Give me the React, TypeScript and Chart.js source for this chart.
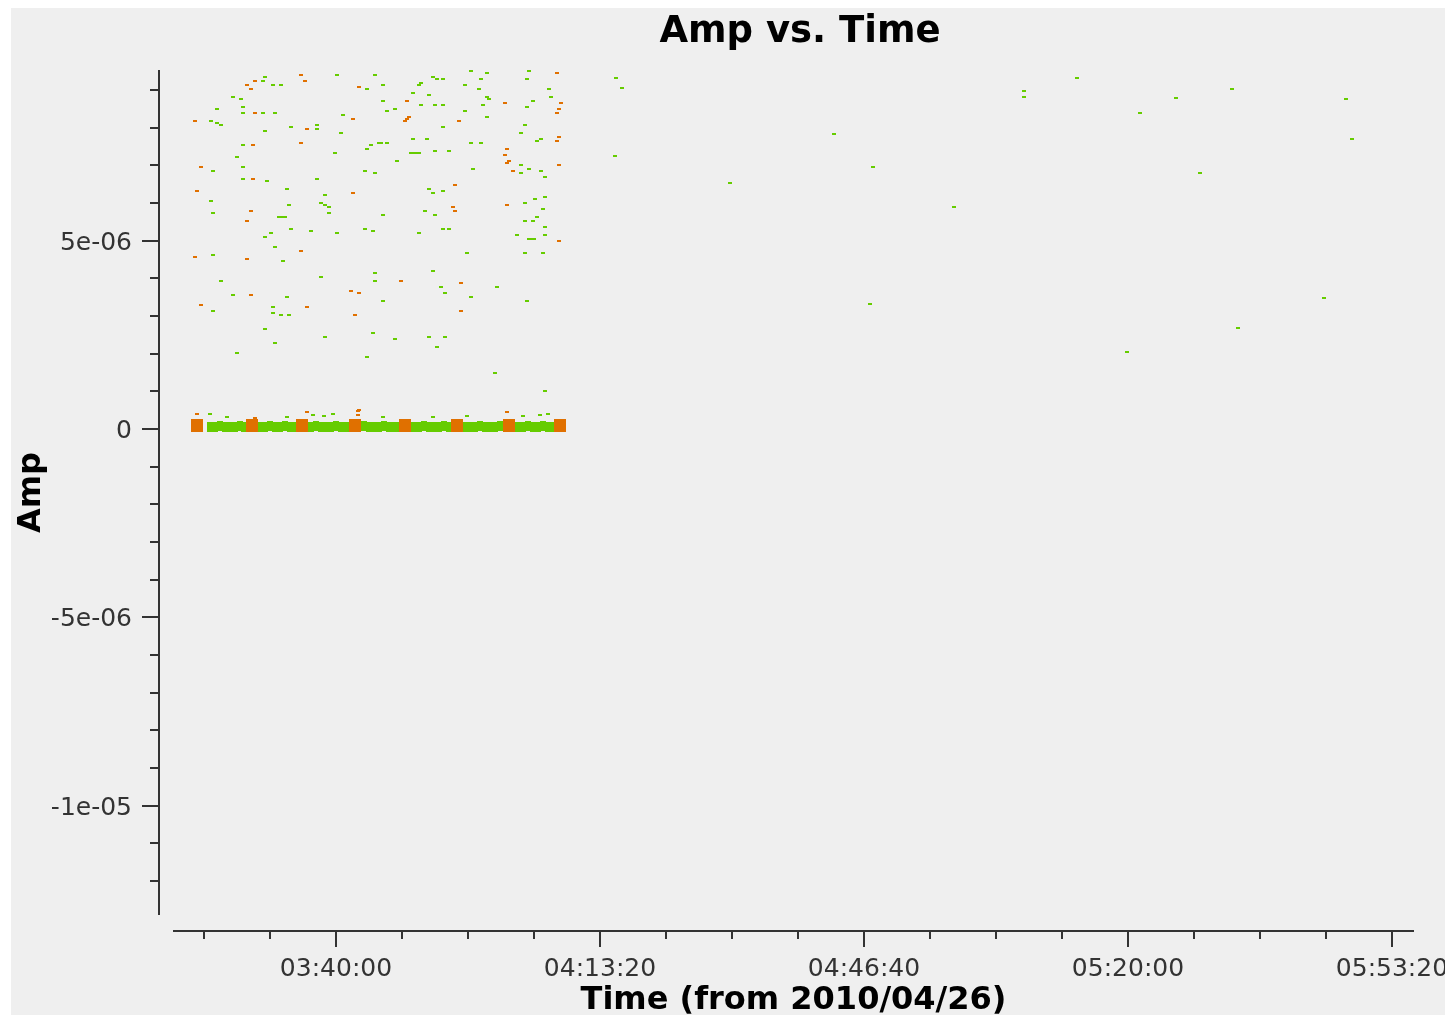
import React, { useEffect, useRef } from 'react';
import { Chart, registerables } from 'chart.js';

Chart.register(...registerables);

// ---- data: time in seconds from 2010/04/26 00:00, amplitude in units of 1e-6 ----
const AMP_UNIT = 1e-6;

const greenScatterTimes = [
  12662, 12647, 12723, 12783, 13208, 13495, 13435, 12420, 12480, 12298,
  12495, 12495, 12647, 12738, 13253, 12253, 12298, 12329, 12859, 13056,
  13056, 12662, 13238, 12495, 13465, 13435, 13526, 13192, 12450, 12268,
  12495, 13420, 13495, 12495, 12677, 13056, 12829, 13117, 12253, 12844,
  13086, 13117, 13147, 12268, 13147, 12768, 12790, 12810, 12859, 12708,
  12662, 13011, 13208, 13420, 13480, 12738, 12268,
  13556, 13829, 13844, 13935, 13965, 14011, 14223, 14344, 14662, 14647,
  14177, 14298, 14283, 13783, 13905, 13556, 13586, 13647, 13844, 13950,
  14011, 14344, 14359, 14314, 14177, 14344, 14814, 14829, 14692, 14647,
  14011, 14632, 14602, 14723, 14753, 13541, 13586, 13783, 13889, 14223,
  14298, 13768, 13798, 13829, 13950, 14056, 13662, 14238, 14602, 14662,
  14602, 14753, 14783, 13905, 13935, 14011, 14783, 14708, 14632, 14768,
  14723, 14632, 14692, 13556, 13874, 13950, 13829, 14011, 14056, 14783,
  14571, 14662, 14680, 14700, 14783, 14192, 14632, 14768,
  12798, 12329, 13086, 13495, 13495, 13935, 12420, 12829, 13995, 14026,
  14223, 14420, 14647, 13556, 12268, 12723, 12723, 12783, 12844, 12662,
  13117, 13480, 13647, 13905, 14026, 13965, 12738, 12450, 13435, 14405,
  14783,
  15321, 15367, 15314, 16185, 16973, 17268, 17245, 17882, 18412, 18412,
  18814, 19291, 19564, 19745, 19988, 20852, 20897, 19192, 20033, 20685,
];
const greenScatterAmps = [
  9.35, 9.24, 9.13, 9.13, 9.40, 9.40, 9.03, 8.82, 8.76, 8.50,
  8.55, 8.39, 8.39, 8.39, 8.34, 8.18, 8.13, 8.07, 8.02, 8.07,
  7.97, 7.91, 7.86, 7.54, 7.54, 7.43, 7.59, 7.33, 7.22, 6.85,
  6.96, 6.85, 6.80, 6.64, 6.59, 6.64, 6.37, 6.21, 6.05, 5.95,
  6.00, 5.95, 5.89, 5.74, 5.74, 5.63, 5.63, 5.63, 5.31, 5.20,
  5.10, 5.26, 5.20, 5.31, 5.26, 4.83, 4.62,
  9.13, 9.13, 9.19, 9.35, 9.29, 9.29, 9.51, 9.45, 9.51, 9.29,
  9.13, 9.29, 9.03, 8.92, 8.87, 8.71, 8.44, 8.50, 8.60, 8.60,
  8.60, 8.82, 8.76, 8.60, 8.44, 8.28, 9.03, 8.82, 8.71, 8.55,
  8.02, 8.07, 7.86, 7.65, 7.70, 7.59, 7.59, 7.70, 7.70, 7.59,
  7.59, 7.33, 7.33, 7.33, 7.38, 7.38, 7.12, 6.90, 7.01, 6.90,
  6.80, 6.85, 6.69, 6.37, 6.27, 6.32, 6.16, 6.11, 6.00, 5.84,
  5.63, 5.52, 5.52, 5.68, 5.79, 5.68, 5.20, 5.31, 5.31, 5.36,
  5.15, 5.05, 5.05, 5.05, 5.15, 4.67, 4.67, 4.67,
  4.46, 3.93, 4.04, 4.14, 3.93, 4.20, 3.56, 3.51, 3.77, 3.61,
  3.51, 3.77, 3.40, 3.40, 3.13, 3.24, 3.08, 3.03, 3.03, 2.66,
  2.44, 2.55, 2.39, 2.44, 2.44, 2.18, 2.28, 2.02, 1.91, 1.49,
  1.01,
  9.32, 9.05, 7.25, 6.53, 7.83, 6.96, 3.32, 5.89, 8.98, 8.82,
  9.32, 8.39, 8.79, 6.80, 9.03, 8.76, 7.70, 2.04, 2.68, 3.48,
];

const greenNearTimes = [12245, 12374, 12829, 13026, 13109, 13177, 13556, 13935, 14192, 14617, 14745, 14806];
const greenNearAmps = [0.40, 0.32, 0.32, 0.37, 0.35, 0.40, 0.32, 0.32, 0.35, 0.35, 0.37, 0.40];

const greenBandTimes = [
  12245, 12283, 12321, 12359, 12397, 12435, 12473, 12503,
  12624, 12662, 12700, 12738, 12776, 12814, 12852, 12889,
  13011, 13048, 13086, 13124, 13162, 13200, 13238, 13276,
  13412, 13450, 13488, 13526, 13564, 13602, 13639, 13670,
  13791, 13829, 13867, 13905, 13942, 13980, 14018, 14056,
  14177, 14215, 14253, 14291, 14329, 14367, 14405, 14442,
  14579, 14617, 14655, 14692, 14730, 14768, 14806, 14844,
];
const greenBandAmps = [
  0.06, 0.05, 0.07, 0.05, 0.06, 0.05, 0.07, 0.05,
  0.06, 0.05, 0.07, 0.06, 0.05, 0.07, 0.05, 0.06,
  0.05, 0.07, 0.05, 0.06, 0.05, 0.07, 0.06, 0.05,
  0.07, 0.05, 0.06, 0.05, 0.07, 0.05, 0.06, 0.05,
  0.06, 0.05, 0.07, 0.05, 0.06, 0.05, 0.07, 0.05,
  0.05, 0.06, 0.05, 0.07, 0.05, 0.06, 0.05, 0.07,
  0.06, 0.05, 0.07, 0.05, 0.06, 0.07, 0.05, 0.06,
];

const orangeScatterTimes = [
  12935, 12586, 12526, 12556, 12965, 13374, 12132, 12586, 13329, 12980,
  12571, 12935, 12177, 12571, 12147, 13329, 12556, 12526, 12935, 12132,
  12526, 14874, 13738, 13723, 13738, 13753, 14132, 14480, 14905, 14889,
  14874, 14889, 14874, 14495, 14480, 14511, 14495, 14541, 14889, 14102,
  14086, 14102, 14495, 14889, 12556, 12177, 12980, 13314, 13374, 13692,
  14147, 13344, 14147, 13374,
];
const orangeScatterAmps = [
  9.40, 9.24, 9.13, 9.03, 9.24, 9.08, 8.18, 8.39, 8.23, 7.97,
  7.54, 7.59, 6.96, 6.64, 6.32, 6.27, 5.79, 5.52, 4.73, 4.57,
  4.51, 9.45, 8.71, 8.18, 8.23, 8.28, 8.18, 8.66, 8.66, 8.50,
  8.39, 7.75, 7.65, 7.43, 7.28, 7.12, 7.06, 6.85, 7.01, 6.48,
  5.89, 5.79, 5.95, 4.99, 3.56, 3.29, 3.24, 3.66, 3.61, 3.93,
  3.88, 3.03, 3.13, 0.50,
];

const orangeNearTimes = [12147, 12586, 12980, 13367, 13367, 14495];
const orangeNearAmps = [0.40, 0.29, 0.45, 0.48, 0.37, 0.45];

const orangeBlockTimes = [12147, 12560, 12946, 13344, 13723, 14117, 14511, 14897];
const orangeBlockAmps = [0.09, 0.09, 0.09, 0.09, 0.09, 0.09, 0.09, 0.09];

// ---- axes ----
const X_MIN = 11965;
const X_MAX = 21367;
const Y_MIN = -12.9e-6;
const Y_MAX = 9.53e-6;
const xMajorTicks = [13200, 15200, 17200, 19200, 21200];
const xMinorStep = 500;
const yMajorTicks = [-1e-5, -5e-6, 0, 5e-6];
const yMajorLabels = ['-1e-05', '-5e-06', '0', '5e-06'];
const yMinorStep = 1e-6;

const TITLE = 'Amp vs. Time';
const X_TITLE = 'Time (from 2010/04/26)';
const Y_TITLE = 'Amp';

const GREEN = '#66cc00';
const ORANGE = '#e07000';
const BG = '#efefef';
const AXIS = '#333333';

function fmtTime(s: number): string {
  const h = Math.floor(s / 3600);
  const m = Math.floor((s % 3600) / 60);
  const sec = Math.round(s % 60);
  const p = (n: number) => (n < 10 ? '0' + n : '' + n);
  return `${p(h)}:${p(m)}:${p(sec)}`;
}

function pts(times: number[], amps: number[]) {
  return times.map((t, i) => ({ x: t, y: amps[i] * AMP_UNIT }));
}

function makeDash(color: string, w: number, h: number): HTMLCanvasElement {
  const c = document.createElement('canvas');
  c.width = w;
  c.height = h;
  const g = c.getContext('2d')!;
  g.fillStyle = color;
  g.fillRect(0, 0, w, h);
  return c;
}

const axesPlugin = {
  id: 'plotmsAxes',
  beforeDraw(chart: any) {
    const { ctx, width, height } = chart;
    ctx.save();
    ctx.fillStyle = BG;
    ctx.fillRect(0, 0, width, height);
    ctx.fillStyle = '#c4c4c4';
    ctx.fillRect(width - 2, 0, 2, height);
    ctx.restore();
  },
  afterDraw(chart: any) {
    const { ctx, chartArea } = chart;
    const xs = chart.scales.x;
    const ys = chart.scales.y;
    ctx.save();
    ctx.fillStyle = AXIS;
    // y axis line
    const yAxisX = chartArea.left - 15;
    ctx.fillRect(yAxisX, chartArea.top, 2, chartArea.bottom - chartArea.top);
    // x axis line
    const xAxisY = chartArea.bottom + 15;
    ctx.fillRect(chartArea.left, xAxisY, chartArea.right - chartArea.left, 2);

    // y ticks (minor every 1e-6, major every 5e-6)
    for (let k = Math.ceil(Y_MIN / yMinorStep); k * yMinorStep <= Y_MAX; k++) {
      const v = k * yMinorStep;
      const py = Math.round(ys.getPixelForValue(v));
      const major = k % 5 === 0;
      const len = major ? 16 : 8;
      ctx.fillRect(yAxisX - len, py - 1, len, 2);
    }
    ctx.font = '25px "DejaVu Sans"';
    ctx.fillStyle = AXIS;
    ctx.textAlign = 'right';
    ctx.textBaseline = 'alphabetic';
    yMajorTicks.forEach((v, i) => {
      const py = ys.getPixelForValue(v);
      ctx.fillText(yMajorLabels[i], yAxisX - 26, py + 9);
    });

    // x ticks: minor every 500 s aligned with the major ticks
    const origin = xMajorTicks[0];
    const first = origin - Math.floor((origin - X_MIN) / xMinorStep) * xMinorStep;
    for (let v = first; v <= X_MAX; v += xMinorStep) {
      const px = Math.round(xs.getPixelForValue(v));
      const major = xMajorTicks.includes(v);
      ctx.fillRect(px - 1, xAxisY, 2, major ? 17 : 9);
    }
    ctx.textAlign = 'center';
    xMajorTicks.forEach((v) => {
      const px = xs.getPixelForValue(v);
      ctx.fillText(fmtTime(v), px, xAxisY + 46);
    });

    // titles
    ctx.fillStyle = '#000';
    ctx.font = 'bold 37px "DejaVu Sans"';
    ctx.textAlign = 'center';
    ctx.fillText(TITLE, 789, 34);
    ctx.font = 'bold 32px "DejaVu Sans"';
    ctx.fillText(X_TITLE, (chartArea.left + chartArea.right) / 2, 1001);
    ctx.save();
    ctx.translate(29, (chartArea.top + chartArea.bottom) / 2);
    ctx.rotate(-Math.PI / 2);
    ctx.fillText(Y_TITLE, 0, 0);
    ctx.restore();
    ctx.restore();
  },
};

export default function App() {
  const ref = useRef<HTMLCanvasElement | null>(null);

  useEffect(() => {
    if (!ref.current) return;
    const gDot = makeDash(GREEN, 4, 2);
    const oDot = makeDash(ORANGE, 4, 2);
    const gBand = makeDash(GREEN, 6, 10);
    const oBlock = makeDash(ORANGE, 12, 13);

    const common = { pointRadius: 2, pointHoverRadius: 2, showLine: false };
    const chart = new Chart(ref.current, {
      type: 'scatter',
      data: {
        datasets: [
          { label: 'orange blocks', data: pts(orangeBlockTimes, orangeBlockAmps), pointStyle: oBlock, ...common },
          { label: 'orange near', data: pts(orangeNearTimes, orangeNearAmps), pointStyle: oDot, ...common },
          { label: 'orange', data: pts(orangeScatterTimes, orangeScatterAmps), pointStyle: oDot, ...common },
          { label: 'green near', data: pts(greenNearTimes, greenNearAmps), pointStyle: gDot, ...common },
          { label: 'green', data: pts(greenScatterTimes, greenScatterAmps), pointStyle: gDot, ...common },
          { label: 'green band', data: pts(greenBandTimes, greenBandAmps), pointStyle: gBand, ...common },
        ] as any,
      },
      options: {
        responsive: false,
        animation: false,
        events: [],
        layout: { padding: { left: 162, right: 34, top: 62, bottom: 100 } },
        plugins: { legend: { display: false }, tooltip: { enabled: false }, title: { display: false } },
        scales: {
          x: { type: 'linear', min: X_MIN, max: X_MAX, display: false },
          y: { type: 'linear', min: Y_MIN, max: Y_MAX, display: false },
        },
      },
      plugins: [axesPlugin],
    });
    return () => chart.destroy();
  }, []);

  return (
    <div style={{ marginLeft: 3 }}>
      <canvas ref={ref} width={1437} height={1007} style={{ display: 'block' }} />
    </div>
  );
}
